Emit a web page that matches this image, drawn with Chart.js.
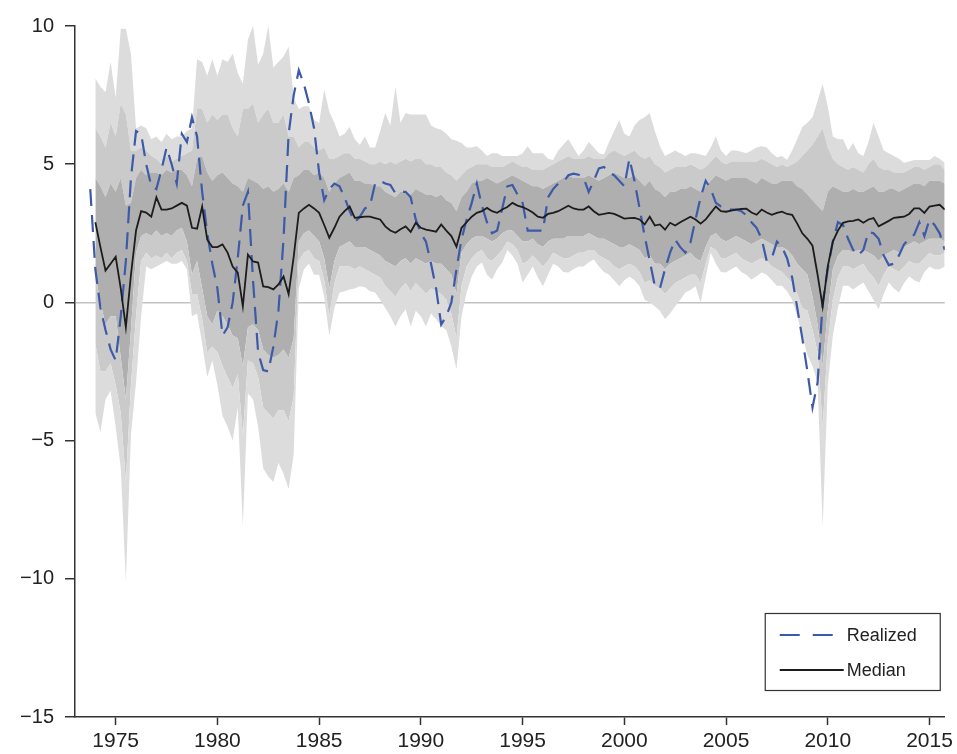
<!DOCTYPE html>
<html>
<head>
<meta charset="utf-8">
<title>Realized vs. predicted growth distribution</title>
<script src="https://cdn.jsdelivr.net/npm/chart.js@4.4.1/dist/chart.umd.min.js"></script>
<style>
  html, body { margin: 0; padding: 0; background: #ffffff; }
  canvas { display: block; }
</style>
</head>
<body>
<canvas id="fan" width="957" height="754"></canvas>
<script>
// Quarterly observations, first one is 1973 Q4 (1973.75), one row per year.
const FIRST_QUARTER = 1973.75;

const xTickYears = [1975, 1980, 1985, 1990, 1995, 2000, 2005, 2010, 2015];
const yTickValues = [-15, -10, -5, 0, 5, 10];

const realized = [
  4.1,
  1.2, -0.2, -1.0, -1.7,      // 1974
  -2.1, -0.5, 1.5, 4.5,       // 1975
  6.2, 6.1, 5.0, 4.2,         // 1976
  4.1, 4.8, 5.6, 5.0,         // 1977
  4.3, 6.1, 5.8, 6.7,         // 1978
  6.0, 4.0, 2.5, 1.4,         // 1979
  0.5, -1.2, -0.9, 0.0,       // 1980
  1.6, 3.5, 4.0, 0.8,         // 1981
  -1.8, -2.45, -2.5, -1.6,    // 1982
  -0.3, 2.3, 6.1, 7.5,        // 1983
  8.4, 7.9, 7.2, 6.3,         // 1984
  4.7, 3.7, 4.1, 4.3,         // 1985
  4.2, 3.8, 3.3, 2.9,         // 1986
  3.1, 3.4, 3.5, 4.3,         // 1987
  4.4, 4.3, 4.25, 3.95,       // 1988
  4.0, 4.0, 3.8, 3.0,         // 1989
  2.5, 2.2, 1.4, 0.5,         // 1990
  -0.8, -0.5, 0.0, 1.2,       // 1991
  2.3, 3.0, 3.6, 4.3,         // 1992
  3.5, 2.9, 2.5, 2.6,         // 1993
  3.4, 4.2, 4.25, 3.9,        // 1994
  3.6, 2.6, 2.6, 2.6,         // 1995
  2.6, 3.8, 4.1, 4.3,         // 1996
  4.35, 4.6, 4.66, 4.62,      // 1997
  4.5, 4.0, 4.4, 4.85,        // 1998
  4.9, 4.7, 4.6, 4.4,         // 1999
  4.2, 5.2, 4.4, 3.4,         // 2000
  2.4, 1.5, 0.6, 0.5,         // 2001
  1.2, 1.8, 2.27, 2.0,        // 2002
  1.8, 2.16, 3.0, 3.8,        // 2003
  4.4, 4.1, 3.6, 3.47,        // 2004
  3.4, 3.36, 3.36, 3.3,       // 2005
  3.15, 2.9, 2.7, 2.3,        // 2006
  1.5, 1.6, 2.2, 2.0,         // 2007
  1.6, 0.9, -0.2, -1.3,       // 2008
  -2.5, -3.8, -2.9, 0.0,      // 2009
  1.2, 2.2, 2.9, 2.8,         // 2010
  2.3, 1.9, 1.7, 1.9,         // 2011
  2.55, 2.5, 2.3, 1.7,        // 2012
  1.35, 1.4, 1.7, 2.1,        // 2013
  2.3, 2.45, 2.9, 2.4,        // 2014
  3.0, 2.8, 2.5, 1.9          // 2015
];

const median = [
  null,
  2.9, 2.0, 1.15, 1.4,        // 1974
  1.65, 0.5, -0.9, 1.0,       // 1975
  2.6, 3.3, 3.25, 3.1,        // 1976
  3.8, 3.36, 3.36, 3.4,       // 1977
  3.5, 3.6, 3.5, 2.7,         // 1978
  2.67, 3.47, 2.27, 2.0,      // 1979
  2.0, 2.1, 1.8, 1.3,         // 1980
  1.08, -0.14, 1.73, 1.48,    // 1981
  1.44, 0.58, 0.55, 0.47,     // 1982
  0.65, 0.94, 0.3, 1.66,      // 1983
  3.24, 3.4, 3.53, 3.4,       // 1984
  3.24, 2.8, 2.34, 2.7,       // 1985
  3.1, 3.3, 3.47, 3.06,       // 1986
  3.08, 3.1, 3.1, 3.05,       // 1987
  3.0, 2.75, 2.6, 2.52,       // 1988
  2.65, 2.75, 2.55, 2.88,     // 1989
  2.7, 2.63, 2.6, 2.56,       // 1990
  2.82, 2.6, 2.4, 2.02,       // 1991
  2.7, 2.9, 3.1, 3.24,        // 1992
  3.3, 3.42, 3.3, 3.24,       // 1993
  3.36, 3.45, 3.6, 3.5,       // 1994
  3.45, 3.36, 3.25, 3.1,      // 1995
  3.06, 3.2, 3.24, 3.3,       // 1996
  3.4, 3.5, 3.4, 3.36,        // 1997
  3.36, 3.47, 3.3, 3.17,      // 1998
  3.2, 3.24, 3.2, 3.12,       // 1999
  3.03, 3.05, 3.06, 3.0,      // 2000
  2.82, 3.1, 2.78, 2.82,      // 2001
  2.63, 2.88, 2.78, 2.9,      // 2002
  3.0, 3.1, 3.0, 2.85,        // 2003
  3.0, 3.24, 3.47, 3.3,       // 2004
  3.28, 3.32, 3.36, 3.38,     // 2005
  3.39, 3.25, 3.17, 3.36,     // 2006
  3.25, 3.17, 3.24, 3.28,     // 2007
  3.2, 3.17, 2.85, 2.5,       // 2008
  2.3, 2.05, 1.0, -0.15,      // 2009
  1.3, 2.2, 2.6, 2.88,        // 2010
  2.93, 2.95, 3.0, 2.88,      // 2011
  3.0, 3.05, 2.75, 2.85,      // 2012
  2.95, 3.06, 3.08, 3.1,      // 2013
  3.2, 3.4, 3.4, 3.24,        // 2014
  3.47, 3.5, 3.53, 3.36       // 2015
];

// Quantiles of the predicted distribution
const q05 = [
  null,
  -4.0, -4.7, -3.5, -3.2,     // 1974
  -4.5, -6.0, -10.1, -4.8,    // 1975
  -2.9, -0.5, 1.3, 1.2,       // 1976
  1.3, 1.4, 1.5, 1.4,         // 1977
  1.4, 1.5, 1.2, -0.5,        // 1978
  -0.4, -1.5, -2.7, -2.1,     // 1979
  -3.0, -4.1, -4.5, -5.0,     // 1980
  -3.8, -8.1, -3.3, -3.5,     // 1981
  -4.5, -6.0, -6.3, -6.5,     // 1982
  -5.8, -6.2, -6.75, -5.5,    // 1983
  0.5, 1.2, 1.4, 1.0,         // 1984
  1.0, 0.2, -1.2, -0.2,       // 1985
  0.36, 0.4, 0.47, 0.5,       // 1986
  0.58, 0.55, 0.4, 0.36,      // 1987
  0.1, -0.2, -0.5, -0.87,     // 1988
  -0.5, -0.25, -0.87, -0.3,   // 1989
  -0.5, -0.87, -0.4, -0.6,    // 1990
  -0.87, -1.0, -1.6, -2.42,   // 1991
  -0.5, 0.36, 0.94, 1.3,      // 1992
  1.44, 1.0, 0.83, 1.2,       // 1993
  1.44, 1.9, 1.7, 1.4,        // 1994
  0.72, 1.0, 1.3, 0.9,        // 1995
  0.58, 1.0, 1.4, 1.3,        // 1996
  1.1, 1.08, 1.2, 1.3,        // 1997
  1.3, 1.45, 1.55, 1.3,       // 1998
  1.1, 1.0, 0.8, 0.58,        // 1999
  0.8, 0.94, 0.8, 0.58,       // 2000
  0.1, 0.0, -0.14, -0.3,      // 2001
  -0.6, -0.4, -0.14, 0.1,     // 2002
  0.36, 0.45, 0.58, 0.0,      // 2003
  0.9, 1.8, 1.4, 1.1,         // 2004
  1.08, 1.2, 1.3, 1.1,        // 2005
  1.0, 0.83, 0.95, 1.08,      // 2006
  1.0, 0.8, 0.6, 0.6,         // 2007
  0.4, 0.1, -0.5, -1.2,       // 2008
  -1.9, -2.3, -2.9, -8.1,     // 2009
  -3.0, -1.2, -0.2, 0.6,      // 2010
  0.6, 0.47, 0.6, 0.72,       // 2011
  0.4, 0.1, -0.25, 0.3,       // 2012
  0.72, 0.5, 0.36, 0.7,       // 2013
  0.94, 0.8, 0.72, 1.1,       // 2014
  1.3, 1.2, 1.2, 1.3          // 2015
];

const q10 = [
  null,
  -1.5, -2.5, -2.5, -2.2,     // 1974
  -3.0, -4.0, -6.5, -3.0,     // 1975
  -0.5, 1.5, 1.8, 1.6,        // 1976
  1.7, 1.6, 1.8, 1.6,         // 1977
  1.8, 1.9, 1.5, 0.3,         // 1978
  0.3, -0.6, -1.8, -1.6,      // 1979
  -1.8, -2.3, -2.7, -3.1,     // 1980
  -2.6, -4.8, -2.1, -2.2,     // 1981
  -2.7, -3.8, -4.0, -4.2,     // 1982
  -3.9, -3.9, -4.3, -3.4,     // 1983
  1.5, 1.8, 1.9, 1.6,         // 1984
  1.5, 0.8, -0.5, 0.7,        // 1985
  1.3, 1.3, 1.3, 1.2,         // 1986
  1.3, 1.2, 1.1, 1.0,         // 1987
  0.9, 0.6, 0.4, 0.2,         // 1988
  0.5, 0.7, 0.4, 0.7,         // 1989
  0.5, 0.3, 0.5, 0.4,         // 1990
  0.3, 0.1, -0.4, -1.3,       // 1991
  0.6, 1.3, 1.6, 1.8,         // 1992
  1.9, 1.6, 1.5, 1.7,         // 1993
  1.9, 2.2, 2.1, 1.9,         // 1994
  1.4, 1.5, 1.7, 1.5,         // 1995
  1.3, 1.5, 1.8, 1.7,         // 1996
  1.6, 1.6, 1.7, 1.8,         // 1997
  1.8, 1.9, 1.9, 1.7,         // 1998
  1.6, 1.5, 1.3, 1.2,         // 1999
  1.3, 1.4, 1.3, 1.1,         // 2000
  0.7, 0.8, 0.6, 0.5,         // 2001
  0.3, 0.5, 0.7, 0.8,         // 2002
  0.9, 1.0, 1.0, 0.7,         // 2003
  1.4, 2.0, 1.9, 1.6,         // 2004
  1.6, 1.7, 1.8, 1.6,         // 2005
  1.5, 1.4, 1.5, 1.6,         // 2006
  1.5, 1.3, 1.2, 1.1,         // 2007
  0.9, 0.7, 0.3, -0.2,        // 2008
  -0.3, -1.0, -1.8, -4.5,     // 2009
  -1.5, 0.1, 0.9, 1.3,        // 2010
  1.3, 1.2, 1.3, 1.4,         // 2011
  1.1, 0.9, 0.6, 1.0,         // 2012
  1.3, 1.2, 1.1, 1.3,         // 2013
  1.5, 1.4, 1.4, 1.6,         // 2014
  1.8, 1.7, 1.7, 1.8          // 2015
];

const q25 = [
  null,
  1.0, 0.0, -0.8, -0.5,       // 1974
  -0.5, -2.0, -3.5, -1.0,     // 1975
  1.8, 2.4, 2.5, 2.4,         // 1976
  2.6, 2.4, 2.5, 2.4,         // 1977
  2.6, 2.7, 2.2, 1.0,         // 1978
  1.5, 0.5, -0.5, -0.8,       // 1979
  -0.3, -0.5, -0.8, -1.2,     // 1980
  -1.3, -2.3, -0.9, -0.8,     // 1981
  -1.0, -1.7, -1.9, -2.0,     // 1982
  -1.9, -1.7, -2.0, -1.3,     // 1983
  2.2, 2.5, 2.6, 2.4,         // 1984
  2.2, 1.6, 0.5, 1.5,         // 1985
  2.0, 2.1, 2.2, 2.0,         // 1986
  2.0, 2.0, 1.9, 1.8,         // 1987
  1.7, 1.5, 1.4, 1.3,         // 1988
  1.5, 1.6, 1.4, 1.6,         // 1989
  1.5, 1.4, 1.5, 1.4,         // 1990
  1.4, 1.2, 1.0, 0.3,         // 1991
  1.8, 2.1, 2.3, 2.4,         // 1992
  2.4, 2.3, 2.2, 2.3,         // 1993
  2.5, 2.6, 2.6, 2.4,         // 1994
  2.2, 2.2, 2.3, 2.1,         // 1995
  2.0, 2.2, 2.3, 2.3,         // 1996
  2.3, 2.4, 2.4, 2.4,         // 1997
  2.4, 2.5, 2.4, 2.3,         // 1998
  2.3, 2.2, 2.1, 2.0,         // 1999
  2.0, 2.1, 2.0, 1.9,         // 2000
  1.6, 1.7, 1.4, 1.4,         // 2001
  1.2, 1.4, 1.5, 1.6,         // 2002
  1.7, 1.8, 1.6, 1.5,         // 2003
  2.0, 2.4, 2.5, 2.3,         // 2004
  2.2, 2.3, 2.4, 2.3,         // 2005
  2.2, 2.1, 2.2, 2.3,         // 2006
  2.2, 2.1, 2.0, 2.0,         // 2007
  1.9, 1.7, 1.4, 1.2,         // 2008
  1.0, 0.2, -0.8, -2.3,       // 2009
  -0.3, 1.2, 1.7, 1.9,        // 2010
  1.9, 1.8, 1.9, 1.9,         // 2011
  1.8, 1.7, 1.5, 1.7,         // 2012
  1.8, 1.9, 1.8, 2.0,         // 2013
  2.1, 2.2, 2.1, 2.2,         // 2014
  2.3, 2.3, 2.3, 2.2          // 2015
];

const q75 = [
  null,
  4.5, 4.2, 3.8, 4.3,         // 1974
  4.0, 4.5, 3.5, 3.6,         // 1975
  4.5, 4.8, 4.6, 4.7,         // 1976
  4.7, 4.6, 4.8, 4.7,         // 1977
  4.8, 4.8, 4.6, 4.2,         // 1978
  5.2, 5.3, 4.7, 4.4,         // 1979
  4.6, 4.7, 4.5, 4.3,         // 1980
  4.2, 4.0, 4.5, 4.4,         // 1981
  4.3, 4.1, 4.2, 4.0,         // 1982
  4.1, 4.3, 4.0, 4.5,         // 1983
  4.6, 4.8, 4.8, 4.6,         // 1984
  4.7, 4.5, 4.0, 4.3,         // 1985
  4.5, 4.6, 4.7, 4.4,         // 1986
  4.4, 4.3, 4.3, 4.2,         // 1987
  4.2, 4.0, 3.9, 3.8,         // 1988
  4.0, 4.0, 3.9, 4.1,         // 1989
  4.0, 3.9, 3.9, 3.8,         // 1990
  3.9, 3.7, 3.6, 3.3,         // 1991
  3.8, 4.0, 4.3, 4.4,         // 1992
  4.4, 4.5, 4.4, 4.3,         // 1993
  4.4, 4.5, 4.6, 4.5,         // 1994
  4.4, 4.3, 4.2, 4.2,         // 1995
  4.1, 4.2, 4.3, 4.4,         // 1996
  4.5, 4.6, 4.5, 4.5,         // 1997
  4.5, 4.6, 4.5, 4.4,         // 1998
  4.5, 4.6, 4.7, 4.6,         // 1999
  4.5, 4.5, 4.6, 4.4,         // 2000
  4.2, 4.4, 4.1, 4.0,         // 2001
  3.8, 4.0, 4.0, 4.1,         // 2002
  4.1, 4.2, 4.1, 4.0,         // 2003
  4.2, 4.4, 4.6, 4.5,         // 2004
  4.4, 4.5, 4.5, 4.5,         // 2005
  4.5, 4.4, 4.3, 4.5,         // 2006
  4.4, 4.3, 4.3, 4.4,         // 2007
  4.4, 4.4, 4.2, 4.1,         // 2008
  3.9, 3.7, 3.5, 3.3,         // 2009
  4.0, 4.2, 4.1, 4.0,         // 2010
  4.0, 4.1, 4.0, 4.0,         // 2011
  4.1, 4.2, 4.0, 4.0,         // 2012
  4.1, 4.1, 4.0, 4.1,         // 2013
  4.2, 4.3, 4.3, 4.2,         // 2014
  4.4, 4.4, 4.4, 4.3          // 2015
];

const q90 = [
  null,
  6.3, 6.0, 5.6, 6.5,         // 1974
  6.0, 7.2, 6.8, 5.5,         // 1975
  5.5, 5.6, 5.5, 5.3,         // 1976
  5.2, 5.0, 5.3, 5.1,         // 1977
  5.2, 5.3, 5.4, 5.5,         // 1978
  7.0, 7.0, 6.5, 6.8,         // 1979
  6.6, 6.8, 6.8, 6.3,         // 1980
  6.0, 7.0, 7.0, 7.2,         // 1981
  6.5, 6.8, 7.0, 6.5,         // 1982
  6.5, 6.8, 6.0, 6.0,         // 1983
  5.6, 5.8, 5.8, 5.6,         // 1984
  5.5, 5.6, 5.2, 5.2,         // 1985
  5.3, 5.4, 5.4, 5.2,         // 1986
  5.2, 5.1, 5.0, 5.0,         // 1987
  5.1, 5.0, 5.1, 5.0,         // 1988
  5.1, 5.2, 5.1, 5.2,         // 1989
  5.2, 5.0, 5.0, 4.9,         // 1990
  4.9, 4.7, 4.6, 4.4,         // 1991
  4.6, 4.8, 4.9, 5.0,         // 1992
  5.0, 5.0, 4.9, 4.9,         // 1993
  4.9, 5.0, 5.1, 5.0,         // 1994
  4.9, 4.9, 4.8, 4.8,         // 1995
  4.8, 4.9, 5.0, 5.1,         // 1996
  5.2, 5.3, 5.2, 5.2,         // 1997
  5.2, 5.3, 5.2, 5.2,         // 1998
  5.2, 5.4, 5.5, 5.4,         // 1999
  5.3, 5.4, 5.5, 5.3,         // 2000
  5.2, 5.3, 5.0, 4.9,         // 2001
  4.7, 4.8, 4.9, 4.9,         // 2002
  4.9, 5.0, 4.9, 4.8,         // 2003
  4.9, 5.1, 5.3, 5.1,         // 2004
  5.0, 5.1, 5.1, 5.1,         // 2005
  5.1, 5.1, 5.1, 5.2,         // 2006
  5.1, 5.0, 4.9, 5.0,         // 2007
  4.9, 5.0, 5.1, 5.3,         // 2008
  5.5, 5.7, 6.0, 6.3,         // 2009
  5.6, 5.2, 5.0, 4.9,         // 2010
  4.8, 4.9, 4.8, 4.7,         // 2011
  5.0, 5.2, 4.9, 4.8,         // 2012
  4.8, 4.7, 4.7, 4.7,         // 2013
  4.8, 4.9, 4.9, 4.8,         // 2014
  4.9, 5.0, 5.0, 4.8          // 2015
];

const q95 = [
  null,
  8.1, 7.8, 7.6, 8.7,         // 1974
  7.4, 9.9, 9.9, 9.0,         // 1975
  6.3, 6.4, 6.3, 5.9,         // 1976
  6.0, 5.8, 6.1, 5.9,         // 1977
  6.0, 6.0, 6.2, 6.3,         // 1978
  8.8, 8.7, 8.2, 8.8,         // 1979
  8.2, 8.8, 8.7, 9.0,         // 1980
  8.3, 7.9, 9.5, 10.0,        // 1981
  8.6, 9.0, 10.0, 8.5,        // 1982
  8.7, 8.9, 9.25, 7.4,        // 1983
  7.0, 7.1, 7.1, 6.6,         // 1984
  6.5, 7.7, 6.9, 6.5,         // 1985
  6.0, 6.1, 6.35, 5.9,        // 1986
  5.7, 6.0, 5.6, 5.6,         // 1987
  6.2, 6.85, 6.4, 7.8,        // 1988
  6.5, 6.85, 6.8, 6.8,        // 1989
  6.8, 6.8, 6.4, 6.3,         // 1990
  6.25, 6.1, 5.9, 5.85,       // 1991
  5.77, 5.6, 5.6, 5.65,       // 1992
  5.5, 5.3, 5.4, 5.4,         // 1993
  5.3, 5.3, 5.3, 5.3,         // 1994
  5.4, 5.65, 5.4, 5.4,        // 1995
  5.4, 5.2, 5.15, 5.5,        // 1996
  5.7, 5.9, 5.6, 5.3,         // 1997
  5.5, 5.8, 5.6, 5.4,         // 1998
  5.35, 5.8, 6.2, 6.6,        // 1999
  6.1, 6.0, 6.4, 6.6,         // 2000
  6.7, 6.85, 6.2, 5.65,       // 2001
  5.3, 5.4, 5.5, 5.4,         // 2002
  5.3, 5.4, 5.4, 5.35,        // 2003
  5.3, 5.6, 6.0, 5.5,         // 2004
  5.3, 5.5, 5.5, 5.45,        // 2005
  5.4, 5.5, 5.6, 5.65,        // 2006
  5.6, 5.4, 5.25, 5.3,        // 2007
  5.15, 5.5, 5.9, 6.35,       // 2008
  6.5, 6.7, 7.3, 7.9,         // 2009
  7.1, 6.0, 5.9, 5.9,         // 2010
  5.5, 5.77, 5.4, 5.3,        // 2011
  5.8, 6.5, 6.0, 5.5,         // 2012
  5.4, 5.3, 5.2, 5.05,        // 2013
  5.1, 5.15, 5.15, 5.15,      // 2014
  5.15, 5.3, 5.2, 5.05        // 2015
];

// ---- chart construction ----
const dates = realized.map((_, i) => FIRST_QUARTER + i * 0.25);
const toPoints = values => values.map((v, i) => ({ x: dates[i], y: v }));

const SHADE_OUTER = '#dcdcdc';
const SHADE_MID = '#cacaca';
const SHADE_INNER = '#afafaf';
const REALIZED_COLOR = '#3d5aa8';
const MEDIAN_COLOR = '#1c1c1c';
const REALIZED_DASH = [17, 9];

// Bands sit underneath both lines (a higher "order" is drawn first).
const band = (label, values, fillColor) => ({
  label,
  data: toPoints(values),
  fill: fillColor ? '-1' : false,
  backgroundColor: fillColor || 'rgba(0,0,0,0)',
  borderWidth: 0,
  pointRadius: 0,
  tension: 0,
  order: 10
});

const fontFamily = '"Liberation Sans", Arial, Helvetica, sans-serif';

const legendBox = {
  id: 'legendBox',
  afterDatasetsDraw(chart) {
    const { ctx, chartArea: a } = chart;
    const w = 175, h = 77;
    const x0 = a.right - 5 - w;
    const y0 = a.bottom - 27 - h;
    ctx.save();
    ctx.fillStyle = '#ffffff';
    ctx.fillRect(x0, y0, w, h);
    ctx.strokeStyle = '#333333';
    ctx.lineWidth = 1.2;
    ctx.strokeRect(x0 + 0.5, y0 + 0.5, w, h);
    const items = [
      { text: 'Realized', color: REALIZED_COLOR, dash: [20, 13], width: 2.2 },
      { text: 'Median', color: MEDIAN_COLOR, dash: [], width: 2 }
    ];
    ctx.font = '18px ' + fontFamily;
    ctx.textBaseline = 'middle';
    items.forEach((it, i) => {
      const y = y0 + 22 + i * 35;
      ctx.beginPath();
      ctx.setLineDash(it.dash);
      ctx.strokeStyle = it.color;
      ctx.lineWidth = it.width;
      ctx.moveTo(x0 + 15, y);
      ctx.lineTo(x0 + (it.dash.length ? 70 : 79), y);
      ctx.stroke();
      ctx.setLineDash([]);
      ctx.fillStyle = '#222222';
      ctx.fillText(it.text, x0 + 82, y + 1);
    });
    ctx.restore();
  }
};

const minusLabel = v => (v < 0 ? '\u2212' + Math.abs(v) : String(v));

new Chart(document.getElementById('fan'), {
  type: 'line',
  data: {
    datasets: [
      band('5th', q05, null),
      band('10th', q10, SHADE_OUTER),
      band('25th', q25, SHADE_MID),
      band('75th', q75, SHADE_INNER),
      band('90th', q90, SHADE_MID),
      band('95th', q95, SHADE_OUTER),
      {
        label: 'Realized',
        data: toPoints(realized),
        borderColor: REALIZED_COLOR,
        borderWidth: 2.2,
        borderDash: REALIZED_DASH,
        pointRadius: 0,
        fill: false,
        tension: 0,
        order: 2
      },
      {
        label: 'Median',
        data: toPoints(median),
        borderColor: MEDIAN_COLOR,
        borderWidth: 1.8,
        pointRadius: 0,
        fill: false,
        tension: 0,
        order: 1
      }
    ]
  },
  options: {
    responsive: false,
    animation: false,
    devicePixelRatio: 1,
    layout: { padding: { top: 26, right: 9, left: 0, bottom: 0 } },
    plugins: {
      legend: { display: false },
      tooltip: { enabled: false }
    },
    scales: {
      x: {
        type: 'linear',
        min: 1973,
        max: 2015.75,
        afterBuildTicks: s => { s.ticks = xTickYears.map(v => ({ value: v })); },
        afterFit: s => { s.height = 37; },
        ticks: {
          callback: v => String(v),
          color: '#222222',
          font: { family: fontFamily, size: 21 },
          padding: 4,
          maxRotation: 0,
          autoSkip: false
        },
        grid: {
          drawOnChartArea: false,
          drawTicks: true,
          tickLength: 8,
          tickColor: '#333333',
          tickWidth: 1.5
        },
        border: { display: true, color: '#333333', width: 1.5 }
      },
      y: {
        min: -15,
        max: 10,
        afterBuildTicks: s => { s.ticks = yTickValues.map(v => ({ value: v })); },
        afterFit: s => { s.width = 75; },
        ticks: {
          callback: minusLabel,
          color: '#222222',
          font: { family: fontFamily, size: 20 },
          padding: 11
        },
        grid: {
          drawOnChartArea: true,
          color: c => (c.tick && c.tick.value === 0 ? '#c2c2c2' : 'rgba(0,0,0,0)'),
          lineWidth: 1.5,
          drawTicks: true,
          tickLength: 10,
          tickColor: '#333333',
          tickWidth: 1.5
        },
        border: { display: true, color: '#333333', width: 1.5 }
      }
    }
  },
  plugins: [legendBox]
});
</script>
</body>
</html>
